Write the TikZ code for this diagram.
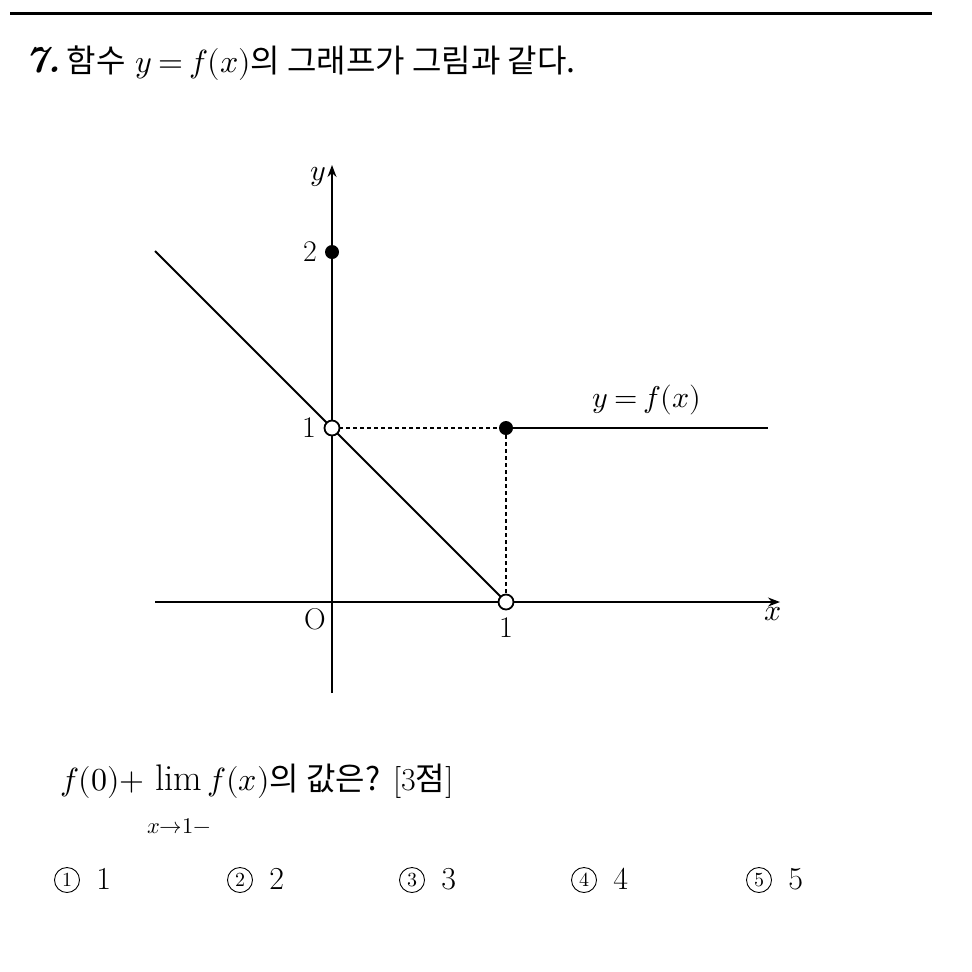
\documentclass[tikz,border=0pt]{standalone}
\usepackage{fontspec}
\usepackage{unicode-math}
\setmathfont{Latin Modern Math}
\newfontfamily\kr{Noto Sans CJK KR}
\usetikzlibrary{arrows.meta}
\thickmuskip=3.5mu plus 2mu
\begin{document}
\begin{tikzpicture}[x=0.5pt,y=-0.5pt,
  txt/.style={inner sep=0pt,font=\fontsize{16}{19}\selectfont},
  lbl/.style={inner sep=0pt,font=\fontsize{15}{18}\selectfont},
  axis/.style={line width=0.75pt},
  graphline/.style={line width=1pt},
  guide/.style={line width=0.55pt,dash pattern=on 2pt off 1.5pt},
  opendot/.style={circle,draw,line width=0.9pt,fill=white,minimum size=7.5pt,inner sep=0pt},
  fulldot/.style={circle,fill=black,minimum size=7pt,inner sep=0pt},
  circnum/.style={circle,draw,line width=0.45pt,minimum size=12.5pt,inner sep=0pt,font=\fontsize{10}{11}\selectfont}]
\useasboundingbox (0,0) rectangle (972,971);
% top rule
\coordinate (rl) at (10,13);
\coordinate (rr) at (932,13);
\draw[line width=1.5pt] (rl) -- (rr);
% title
\node[txt,anchor=base west] (title) at (25,72) {{\fontsize{19}{22}\selectfont\bfseries\itshape 7.}\,{\kr 함수} $y=f(x)${\kr 의 그래프가 그림과 같다.}};
% axes
\coordinate (xs) at (155,602);
\coordinate (xe) at (780,602);
\coordinate (ys) at (332,693);
\coordinate (ye) at (332,165);
\draw[axis,-{Stealth[length=6pt,width=4.5pt]}] (xs) -- (xe);
\draw[axis,-{Stealth[length=6pt,width=4.5pt]}] (ys) -- (ye);
% key points
\coordinate (p01) at (332,428);
\coordinate (p10) at (506,602);
\coordinate (p11) at (506,428);
\coordinate (p02) at (332,252);
\coordinate (lstart) at (155,251);
\coordinate (hend) at (768,428);
% guides
\draw[guide] (p01) -- (p11);
\draw[guide] (p11) -- (p10);
% graph
\draw[graphline] (lstart) -- (p10);
\draw[graphline] (p11) -- (hend);
\node[opendot] (o1) at (p01) {};
\node[opendot] (o2) at (p10) {};
\node[fulldot] (f1) at (p11) {};
\node[fulldot] (f2) at (p02) {};
% labels
\node[lbl] (ly) at (318,177) {$y$};
\node[lbl] (lx) at (773,614) {$x$};
\node[lbl] (lO) at (315,619) {O};
\node[lbl] (l1x) at (506,628) {1};
\node[lbl] (l2y) at (310,252) {2};
\node[lbl] (l1y) at (309,428) {1};
\node[lbl] (lf) at (647,400) {$y=f(x)$};
% question
\node[txt,anchor=base west] (q) at (60,790) {$f(0){+}\,\mathop{\hbox{\fontsize{18.5}{20}\selectfont lim}}\limits_{\lower12pt\hbox to 0pt{\hss$\scriptstyle x\to1-$\hss}}f(x)${\kr 의 값은?} [3{\kr 점}]};
% choices
\node[circnum] (c1) at (67,880) {1};
\node[txt,anchor=base west] (n1) at (96,889) {1};
\node[circnum] (c2) at (240,880) {2};
\node[txt,anchor=base west] (n2) at (269,889) {2};
\node[circnum] (c3) at (412,880) {3};
\node[txt,anchor=base west] (n3) at (441,889) {3};
\node[circnum] (c4) at (584,880) {4};
\node[txt,anchor=base west] (n4) at (613,889) {4};
\node[circnum] (c5) at (759,880) {5};
\node[txt,anchor=base west] (n5) at (788,889) {5};
\end{tikzpicture}
\end{document}
